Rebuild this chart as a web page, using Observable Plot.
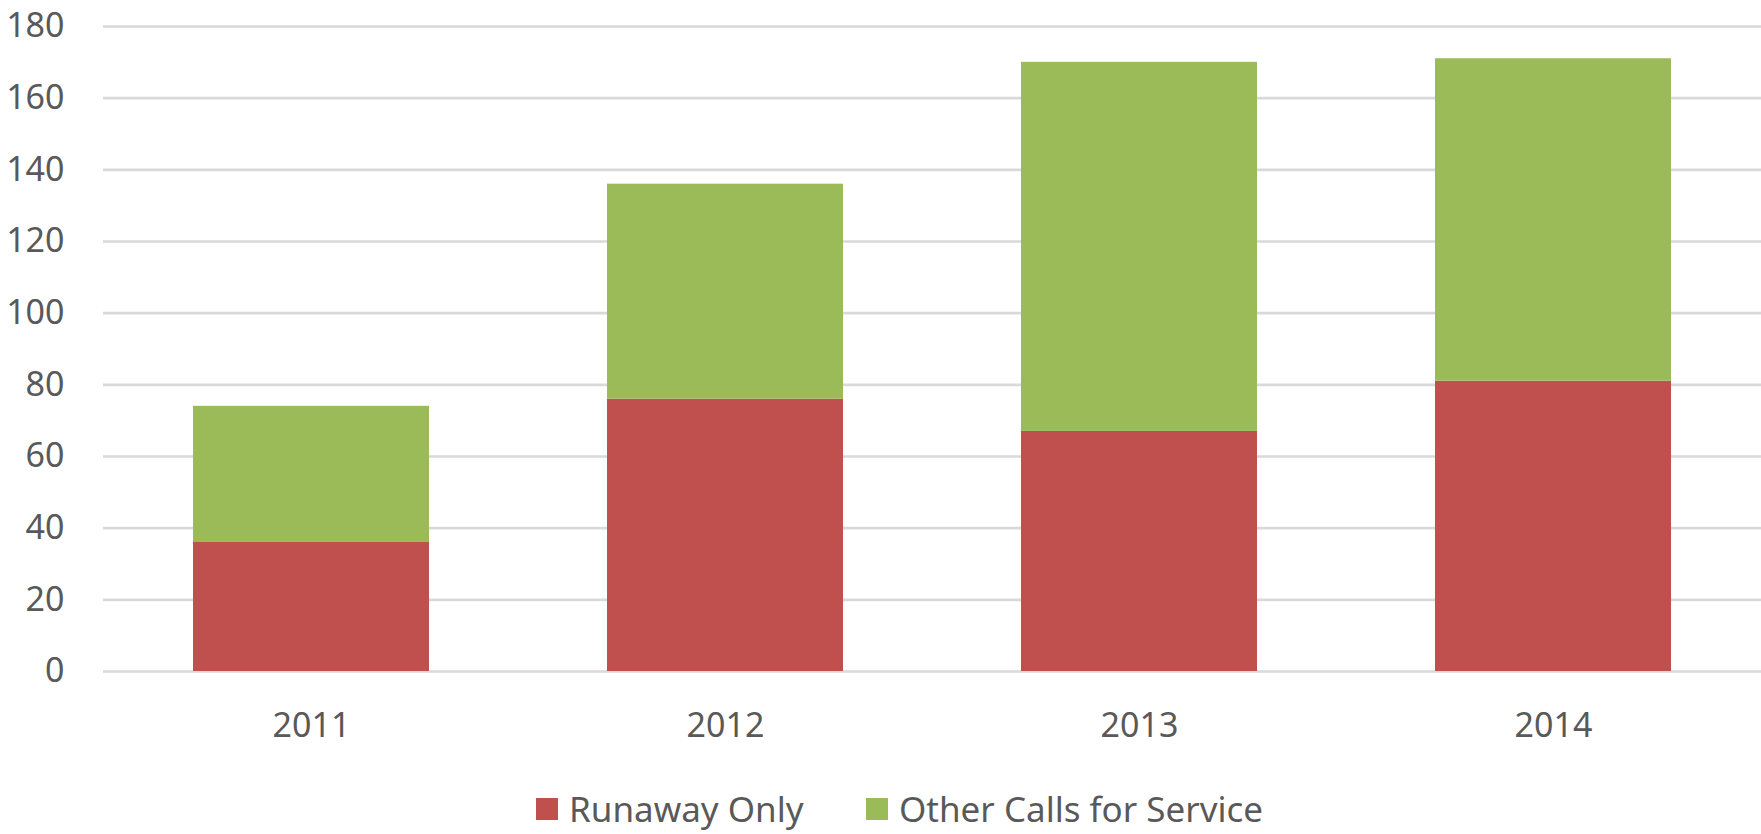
<!DOCTYPE html>
<html>
<head>
<meta charset="utf-8">
<script src="https://cdn.jsdelivr.net/npm/d3@7"></script>
<script src="https://cdn.jsdelivr.net/npm/@observablehq/plot@0.6"></script>
<style>
  html, body { margin: 0; padding: 0; background: #fff; }
  body { width: 1761px; height: 834px; overflow: hidden; font-family: "Noto Sans", sans-serif; color: #595959; }
  #legend { position: relative; height: 74px; }
  .item { position: absolute; top: 0; height: 74px; display: flex; align-items: center; font-size: 35px; line-height: 1.2; white-space: nowrap; transform: translateY(12px); }
  .sw { width: 22px; height: 22px; margin-right: 11px; flex: none; }
</style>
</head>
<body>
<div id="chart"></div>
<div id="legend"></div>
<script>
const years = ["2011", "2012", "2013", "2014"];
const runawayOnly = [36, 76, 67, 81];
const otherCalls = [38, 60, 103, 90];
const seriesNames = ["Runaway Only", "Other Calls for Service"];
const seriesColors = ["#C0504D", "#9BBB59"];
const yTicks = [0, 20, 40, 60, 80, 100, 120, 140, 160, 180];

const rows = [];
years.forEach((y, i) => {
  rows.push({year: y, series: seriesNames[0], value: runawayOnly[i]});
  rows.push({year: y, series: seriesNames[1], value: otherCalls[i]});
});

const H = 760;
const chart = Plot.plot({
  width: 1761,
  height: H,
  marginLeft: 103,
  marginRight: 0,
  marginTop: 26,
  marginBottom: H - 671,
  style: {fontFamily: "Noto Sans", fontSize: "34px", color: "#595959", background: "#fff"},
  x: {type: "band", domain: years, paddingInner: 0.43, paddingOuter: 0.215, label: null},
  y: {domain: [0, 180], ticks: yTicks, label: null},
  color: {domain: seriesNames, range: seriesColors},
  marks: [
    Plot.ruleY(yTicks, {stroke: "#D9D9D9", strokeWidth: 2.7}),
    Plot.barY(rows, Plot.stackY({x: "year", y: "value", fill: "series", order: seriesNames})),
    Plot.axisY({ticks: yTicks, tickSize: 0, tickPadding: 39, label: null, fill: "#595959", fontSize: 34}),
    Plot.axisX({tickSize: 0, tickPadding: 41, label: null, fill: "#595959", fontSize: 34})
  ]
});
document.getElementById("chart").appendChild(chart);

const legend = document.getElementById("legend");
const lefts = [536, 866];
seriesNames.forEach((name, i) => {
  const item = document.createElement("div");
  item.className = "item";
  item.style.left = lefts[i] + "px";
  const sw = document.createElement("span");
  sw.className = "sw";
  sw.style.background = seriesColors[i];
  const t = document.createElement("span");
  t.textContent = name;
  item.appendChild(sw);
  item.appendChild(t);
  legend.appendChild(item);
});
</script>
</body>
</html>
